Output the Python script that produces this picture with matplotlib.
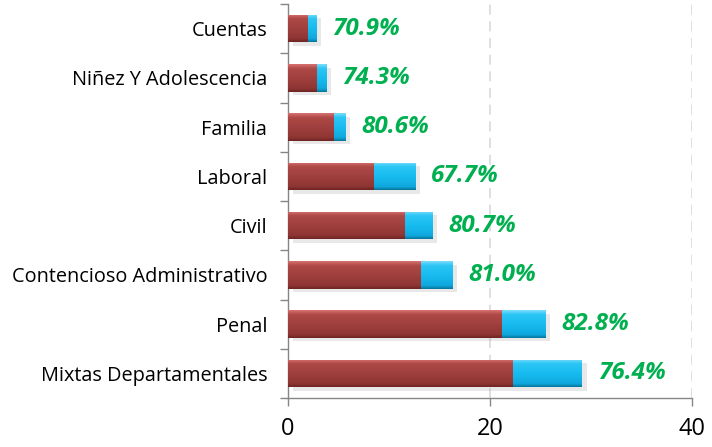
import matplotlib
matplotlib.use("Agg")
import matplotlib.pyplot as plt
import numpy as np
from matplotlib import patheffects as pe
from matplotlib.colors import LinearSegmentedColormap

categories = ["Mixtas Departamentales", "Penal", "Contencioso Administrativo", "Civil",
              "Laboral", "Familia", "Niñez Y Adolescencia", "Cuentas"]
red_values = [22.3, 21.2, 13.2, 11.6, 8.5, 4.55, 2.9, 1.95]
blue_values = [6.8, 4.3, 3.1, 2.7, 4.1, 1.1, 0.9, 0.8]
pct_labels = ["76.4%", "82.8%", "81.0%", "80.7%", "67.7%", "80.6%", "74.3%", "70.9%"]
x_ticks = [0, 20, 40]

fig = plt.figure(figsize=(7.12, 4.47), dpi=100)
ax = fig.add_axes([288/712, 1-398/447, (692-288)/712, (398-4)/447])

y = np.arange(len(categories))
h = 0.555
shadow = [pe.SimplePatchShadow(offset=(3.5, -2.5), shadow_rgbFace=(0.7, 0.7, 0.7), alpha=0.3), pe.Normal()]
red_bars = ax.barh(y, red_values, height=h, color="#A0403E", zorder=3, path_effects=shadow)
blue_bars = ax.barh(y, blue_values, left=red_values, height=h, color="#14B9EE", zorder=3,
                    path_effects=shadow)

def gradient(bars, cols):
    cmap = LinearSegmentedColormap.from_list("g", cols)
    grad = np.linspace(0, 1, 64).reshape(-1, 1)
    for b in bars:
        x0, y0 = b.get_x(), b.get_y()
        w, hh = b.get_width(), b.get_height()
        im = ax.imshow(grad, cmap=cmap, aspect="auto", extent=[x0, x0 + w, y0, y0 + hh],
                       origin="lower", zorder=4, interpolation="bilinear")
        im.set_clip_path(b)

gradient(red_bars, [(0.0, "#6E2423"), (0.12, "#8E3533"), (0.5, "#A0403E"), (0.85, "#AE4A48"), (1.0, "#D87270")])
gradient(blue_bars, [(0.0, "#07769C"), (0.12, "#0FA8DE"), (0.5, "#18BCF0"), (0.85, "#2CC6F5"), (1.0, "#7ADCFA")])

for i, (r, b) in enumerate(zip(red_values, blue_values)):
    ax.annotate(pct_labels[i], xy=(r + b, y[i]), xytext=(11.5, 0), textcoords="offset points",
                va="center", ha="left", color="#00B050", fontsize=17.5,
                fontweight="bold", fontstyle="italic", family=["Open Sans", "DejaVu Sans"], zorder=5)

ax.set_xlim(0, 40)
ax.set_ylim(-0.5, len(categories) - 0.5)
ax.set_xticks(x_ticks)
ax.set_xticklabels([str(t) for t in x_ticks], fontsize=17, family=["Open Sans", "DejaVu Sans"])
ax.set_yticks(y)
ax.set_yticklabels(categories, fontsize=14.3, family=["Open Sans", "DejaVu Sans"])
ax.set_yticks(np.arange(-0.5, len(categories), 1), minor=True)
ax.tick_params(axis="y", which="major", length=0, pad=15)
ax.tick_params(axis="y", which="minor", length=6, color="#868686", width=1)
ax.tick_params(axis="x", length=6, color="#868686", width=1, pad=8)
for s in ["top", "right"]:
    ax.spines[s].set_visible(False)
for s in ["left", "bottom"]:
    ax.spines[s].set_color("#868686")
    ax.spines[s].set_linewidth(1)
ax.set_axisbelow(True)
ax.xaxis.grid(True, color="#D9D9D9", linestyle=(0, (6, 4)), linewidth=1.2)

fig.savefig("out.png", dpi=100)
